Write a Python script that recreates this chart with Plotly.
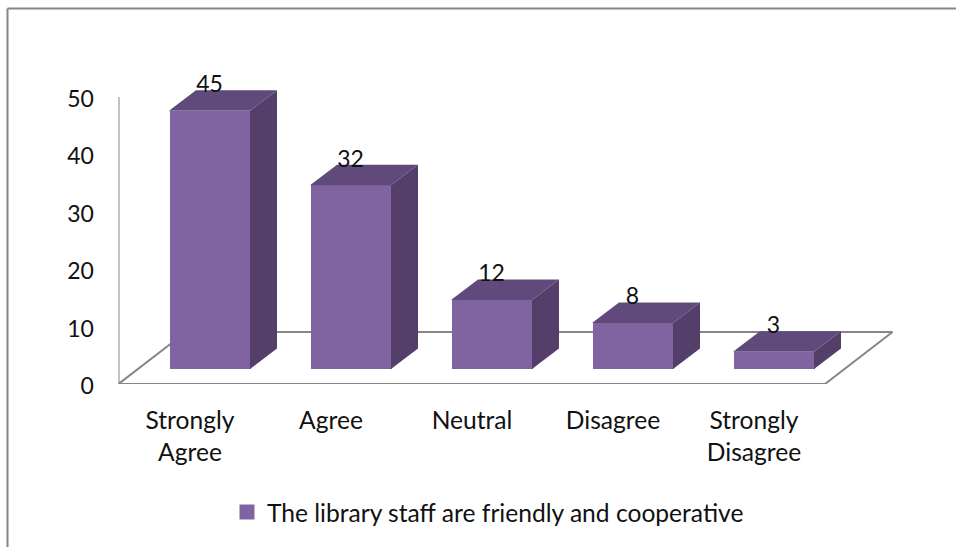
import plotly.graph_objects as go

categories = ["Strongly Agree", "Agree", "Neutral", "Disagree", "Strongly Disagree"]
tick_labels = ["Strongly<br>Agree", "Agree", "Neutral", "Disagree", "Strongly<br>Disagree"]
values = [45, 32, 12, 8, 3]
series_name = "The library staff are friendly and cooperative"
y_ticks = [0, 10, 20, 30, 40, 50]

W, H = 956, 547
FONT = "Lato"
TXT = "#111111"
TEXT_SIZE = 24.6
NUM_SIZE = 23
FRONT, TOP, SIDE, GREY = "#8064A2", "#604A7B", "#543F6B", "#868686"

# pixel geometry expressed as axis scales
PX_PER_CAT = 141.0
PX_PER_UNIT = 5.74
X0_PX, Y0_PX = 118.5, 384.0          # plot-box left / value 0
X1_PX, Y1_PX = 900.0, 40.0
FIRST_BAR_PX = 209.5
xmin = (X0_PX - FIRST_BAR_PX) / PX_PER_CAT
xmax = (X1_PX - FIRST_BAR_PX) / PX_PER_CAT
ymax = (Y0_PX - Y1_PX) / PX_PER_UNIT

BAR_W = 81 / PX_PER_CAT
BASE = 15 / PX_PER_UNIT
DX, DY = 27 / PX_PER_CAT, 20.5 / PX_PER_UNIT
FLOOR_DX, FLOOR_DY = 67.5 / PX_PER_CAT, 52 / PX_PER_UNIT
FLOOR_RIGHT = (825 - FIRST_BAR_PX) / PX_PER_CAT
LABEL_GAP = 24.5 / PX_PER_UNIT
TICK_SHIFT = 19.5 / PX_PER_CAT

fig = go.Figure()
idx = list(range(len(values)))

fig.add_trace(go.Bar(x=idx, y=values, base=BASE, width=BAR_W, marker=dict(color=FRONT, line_width=0),
                     showlegend=False, hoverinfo="skip"))

top_x, top_y, side_x, side_y = [], [], [], []
for i, v in zip(idx, values):
    l, r, t, b = i - BAR_W / 2, i + BAR_W / 2, BASE + v, BASE
    top_x += [l, r, r + DX, l + DX, l, None]
    top_y += [t, t, t + DY, t + DY, t, None]
    side_x += [r, r + DX, r + DX, r, r, None]
    side_y += [b, b + DY, t + DY, t, b, None]

for xs, ys, col in ((side_x, side_y, SIDE), (top_x, top_y, TOP)):
    fig.add_trace(go.Scatter(x=xs, y=ys, mode="lines", fill="toself", fillcolor=col,
                             line=dict(width=0, color=col), showlegend=False, hoverinfo="skip"))

fig.add_trace(go.Scatter(x=idx, y=[BASE + v + LABEL_GAP for v in values], mode="text",
                         text=[str(v) for v in values], textposition="middle center",
                         textfont=dict(family=FONT, size=NUM_SIZE, color=TXT),
                         showlegend=False, hoverinfo="skip"))

# legend swatch
fig.add_trace(go.Scatter(x=[None], y=[None], mode="markers", name=series_name,
                         marker=dict(symbol="square", size=15, color=FRONT)))

line = dict(color=GREY, width=2)
shapes = [
    dict(type="line", layer="below", xref="x", yref="y", x0=xmin, y0=0, x1=xmin, y1=50, line=line),
    dict(type="line", layer="below", xref="x", yref="y", x0=xmin, y0=0, x1=FLOOR_RIGHT, y1=0, line=line),
    dict(type="line", layer="below", xref="x", yref="y", x0=xmin, y0=0, x1=xmin + FLOOR_DX, y1=FLOOR_DY, line=line),
    dict(type="line", layer="below", xref="x", yref="y", x0=xmin + FLOOR_DX, y0=FLOOR_DY,
         x1=FLOOR_RIGHT + FLOOR_DX, y1=FLOOR_DY, line=line),
    dict(type="line", layer="below", xref="x", yref="y", x0=FLOOR_RIGHT, y0=0,
         x1=FLOOR_RIGHT + FLOOR_DX, y1=FLOOR_DY, line=line),
    dict(type="line", xref="paper", yref="paper", x0=7.5 / W, y0=1 - 8.5 / H, x1=1, y1=1 - 8.5 / H, line=line),
    dict(type="line", xref="paper", yref="paper", x0=7.5 / W, y0=1 - 8.5 / H, x1=7.5 / W, y1=0, line=line),
]

fig.update_layout(
    width=W, height=H, margin=dict(l=0, r=0, t=0, b=0, autoexpand=False),
    paper_bgcolor="white", plot_bgcolor="white", shapes=shapes,
    font=dict(family=FONT, size=TEXT_SIZE, color=TXT),
    xaxis=dict(domain=[X0_PX / W, X1_PX / W], range=[xmin, xmax], showgrid=False, zeroline=False, showline=False,
               tickmode="array", tickvals=[i - TICK_SHIFT for i in idx], ticktext=tick_labels,
               ticks="outside", ticklen=14, tickcolor="rgba(0,0,0,0)", tickangle=0,
               tickfont=dict(size=TEXT_SIZE)),
    yaxis=dict(domain=[1 - Y0_PX / H, 1 - Y1_PX / H], range=[0, ymax], showgrid=False, zeroline=False, showline=False,
               tickmode="array", tickvals=y_ticks, ticktext=[str(t) for t in y_ticks],
               ticks="outside", ticklen=19, tickcolor="rgba(0,0,0,0)", tickfont=dict(size=NUM_SIZE),
               ticklabelshift=2),
    showlegend=True,
    legend=dict(x=227 / W, xanchor="left", y=1 - 512 / H, yanchor="middle", orientation="h",
                bgcolor="rgba(0,0,0,0)", font=dict(family=FONT, size=TEXT_SIZE, color=TXT), itemwidth=30),
    bargap=0,
)
fig.write_html("out.html", config={"displayModeBar": False},
               post_script="document.body.style.margin='0';document.documentElement.style.overflow='hidden';")
